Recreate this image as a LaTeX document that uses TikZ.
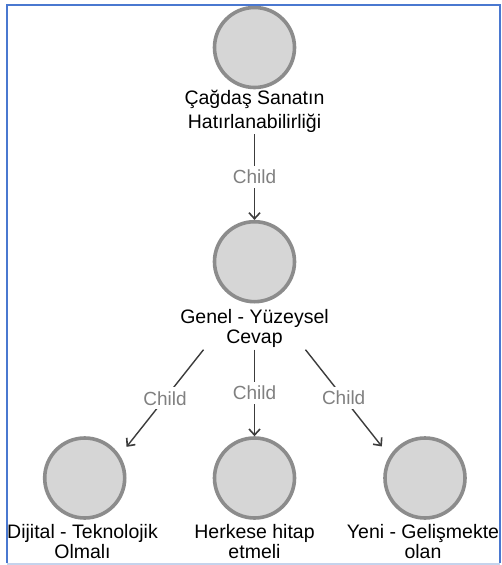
\documentclass[tikz,border=0pt]{standalone}
\usepackage{fontspec}
\setmainfont{Liberation Sans}
\usetikzlibrary{arrows.meta}
\definecolor{ringgray}{HTML}{8C8C8C}
\definecolor{discgray}{HTML}{D6D6D6}
\definecolor{edgegray}{HTML}{3C3C3C}
\definecolor{labelgray}{HTML}{808080}
\definecolor{framedark}{HTML}{4A78D0}
\definecolor{framelight}{HTML}{C5D3EC}
\begin{document}
\begin{tikzpicture}[x=1pt,y=-1pt,
  disc/.style={circle, draw=ringgray, fill=discgray, line width=3.6pt,
    minimum size=80pt, inner sep=0pt},
  caption/.style={align=center, font=\fontsize{19.5}{20}\selectfont,
    text=black, inner sep=2pt},
  link/.style={draw=edgegray, line width=1.4pt,
    -{Straight Barb[length=6pt,width=11pt,line width=1.6pt]}},
  rel/.style={fill=white, text=labelgray,
    font=\fontsize{19}{20}\selectfont, inner sep=4pt}]
\useasboundingbox (0,0) rectangle (501,565);
\fill[white] (0,0) rectangle (501,565);

% nodes: circles and their captions
\node[disc] (c1) at (254.5,47.5) {};
\node[caption, font=\fontsize{19.5}{24}\selectfont] (c1t) at (254.5,111)
  {Çağdaş Sanatın\\Hatırlanabilirliği};
\node[disc] (c2) at (254.5,261.7) {};
\node[caption] (c2t) at (254.5,328.4) {Genel - Yüzeysel\\Cevap};
\node[disc] (c3) at (84.7,478) {};
\node[caption] (c3t) at (82.5,542) {Dijital - Teknolojik\\Olmalı};
\node[disc] (c4) at (254.5,478) {};
\node[caption] (c4t) at (254.5,542) {Herkese hitap\\etmeli};
\node[disc] (c5) at (425,478) {};
\node[caption] (c5t) at (423,542) {Yeni - Gelişmekte\\olan};

% connectors
\draw[link] (c1t) -- node[rel] {Child} (c2);
\draw[link] ([xshift=-51pt]c2t.south) -- node[rel] {Child}
  ([xshift=12.3pt,yshift=1.6pt]c3.north east);
\draw[link] (c2t.south) -- node[rel] {Child} (c4);
\draw[link] ([xshift=51pt]c2t.south) -- node[rel] {Child}
  ([xshift=-13.6pt,yshift=2pt]c5.north west);

% frame
\draw[framedark, line width=2pt] (7,563) -- (7,5) -- (499.5,5) -- (499.5,563);
\draw[framelight, line width=2pt] (7,563.5) -- (499.5,563.5);
\end{tikzpicture}
\end{document}
